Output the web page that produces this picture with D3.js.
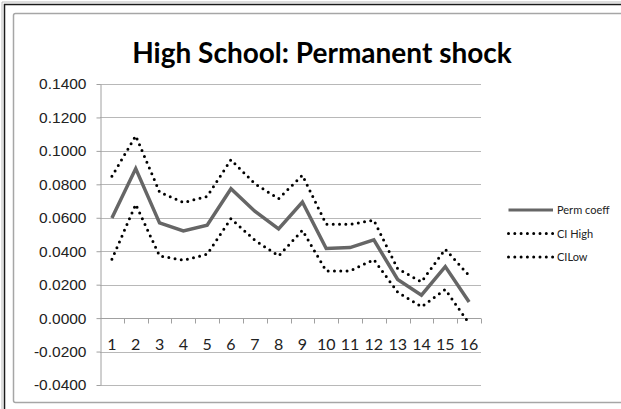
<!DOCTYPE html>
<html>
<head>
<meta charset="utf-8">
<title>High School: Permanent shock</title>
<script src="https://cdn.jsdelivr.net/npm/d3@7"></script>
<style>
  html, body { margin: 0; background: #fff; overflow: hidden; }
  svg { display: block; }
  text { fill: #222; }
</style>
</head>
<body>
<svg width="621" height="409"></svg>
<script>
// data
var periods = ["1","2","3","4","5","6","7","8","9","10","11","12","13","14","15","16"];
var permCoeff = [0.0599, 0.0894, 0.0569, 0.0521, 0.0555, 0.0774, 0.0639, 0.0533, 0.0694, 0.0416, 0.0422, 0.0468, 0.0231, 0.0137, 0.0308, 0.0096];
var ciHigh    = [0.0848, 0.1090, 0.0754, 0.0691, 0.0728, 0.0947, 0.0804, 0.0714, 0.0854, 0.0561, 0.0561, 0.0585, 0.0295, 0.0217, 0.0412, 0.0254];
var ciLow     = [0.0352, 0.0680, 0.0372, 0.0346, 0.0382, 0.0595, 0.0466, 0.0372, 0.0525, 0.0282, 0.0282, 0.0350, 0.0155, 0.0068, 0.0171, -0.0032];
var yTicks = [-0.04, -0.02, 0, 0.02, 0.04, 0.06, 0.08, 0.10, 0.12, 0.14];
var seriesNames = ["Perm coeff", "CI High", "CILow"];

var svg = d3.select("svg");

// frames
svg.append("path")
  .attr("d", "M4.5,409 V4.5 H621")
  .attr("fill", "none").attr("stroke", "#1a1a1a").attr("stroke-width", 1.5);
svg.append("path")
  .attr("d", "M2,409 V2 H621")
  .attr("fill", "none").attr("stroke", "#bbb").attr("stroke-width", 1);
svg.append("rect")
  .attr("x", 13.5).attr("y", 13.5).attr("width", 640).attr("height", 389)
  .attr("rx", 2)
  .attr("fill", "none").attr("stroke", "#a6a6a6").attr("stroke-width", 1.5);

var x = d3.scaleBand().domain(periods).range([100, 481]);
var y = d3.scaleLinear().domain([-0.04, 0.14]).range([385, 84]);

// gridlines
svg.append("g")
  .selectAll("line")
  .data(yTicks)
  .enter().append("line")
    .attr("x1", 100).attr("x2", 481)
    .attr("y1", function(d) { return Math.round(y(d)) + 0.5; })
    .attr("y2", function(d) { return Math.round(y(d)) + 0.5; })
    .attr("stroke", "#b8b8b8").attr("stroke-width", 1);

// y axis
var yAxis = svg.append("g")
  .attr("transform", "translate(100.5,0)")
  .call(d3.axisLeft(y).tickValues(yTicks).tickFormat(d3.format(".4f")).tickSizeOuter(0).tickSizeInner(4).tickPadding(10));
yAxis.select(".domain").attr("stroke", "#a0a0a0");
yAxis.selectAll(".tick line").attr("stroke", "#a0a0a0");
yAxis.selectAll("text")
  .attr("font-family", "Liberation Sans, Arial, sans-serif")
  .attr("font-size", 15.5).attr("fill", "#222")
  .text(function(d) { return d3.format(".4f")(d).replace("−", "-"); });

// x axis at zero, ticks between categories
var xAxisG = svg.append("g").attr("transform", "translate(0," + (Math.round(y(0)) + 0.5) + ")");
xAxisG.append("line").attr("x1", 100).attr("x2", 481).attr("stroke", "#a0a0a0");
xAxisG.selectAll("line.tk")
  .data(periods)
  .enter().append("line")
    .attr("class", "tk")
    .attr("x1", function(d) { return Math.round(x(d) + x.bandwidth()) + 0.5; })
    .attr("x2", function(d) { return Math.round(x(d) + x.bandwidth()) + 0.5; })
    .attr("y1", 0).attr("y2", 5)
    .attr("stroke", "#a0a0a0");
xAxisG.selectAll("text")
  .data(periods)
  .enter().append("text")
    .attr("x", function(d) { return x(d) + x.bandwidth() / 2; })
    .attr("y", 31)
    .attr("text-anchor", "middle")
    .attr("font-family", "Lato, sans-serif")
    .attr("font-size", 16)
    .text(function(d) { return d; });

// lines
var line = d3.line()
  .x(function(d, i) { return x(periods[i]) + x.bandwidth() / 2; })
  .y(function(d) { return y(d); });

svg.append("path").datum(ciHigh)
  .attr("d", line).attr("fill", "none")
  .attr("stroke", "#000").attr("stroke-width", 3)
  .attr("stroke-linecap", "round").attr("stroke-dasharray", "0,6.3");
svg.append("path").datum(ciLow)
  .attr("d", line).attr("fill", "none")
  .attr("stroke", "#000").attr("stroke-width", 3)
  .attr("stroke-linecap", "round").attr("stroke-dasharray", "0,6.3");
svg.append("path").datum(permCoeff)
  .attr("d", line).attr("fill", "none")
  .attr("stroke", "#666").attr("stroke-width", 3.5)
  .attr("stroke-linejoin", "miter");

// title
svg.append("text")
  .attr("x", 322).attr("y", 63)
  .attr("text-anchor", "middle")
  .attr("font-family", "Lato, sans-serif")
  .attr("font-weight", "bold")
  .attr("font-size", 28)
  .style("fill", "#000")
  .text("High School: Permanent shock");

// legend
var legend = svg.append("g").selectAll("g")
  .data(seriesNames)
  .enter().append("g")
    .attr("transform", function(d, i) { return "translate(507," + (210 + i * 23.5) + ")"; });
legend.append("line")
  .attr("x1", 1.5).attr("x2", 46)
  .attr("stroke", function(d, i) { return i == 0 ? "#666" : "#000"; })
  .attr("stroke-width", 3)
  .attr("stroke-linecap", function(d, i) { return i == 0 ? "butt" : "round"; })
  .attr("stroke-dasharray", function(d, i) { return i == 0 ? null : "0,6.3"; });
legend.append("text")
  .attr("x", 50).attr("y", 4)
  .attr("font-family", "Lato, sans-serif")
  .attr("font-size", 11)
  .text(function(d) { return d; });
</script>
</body>
</html>
